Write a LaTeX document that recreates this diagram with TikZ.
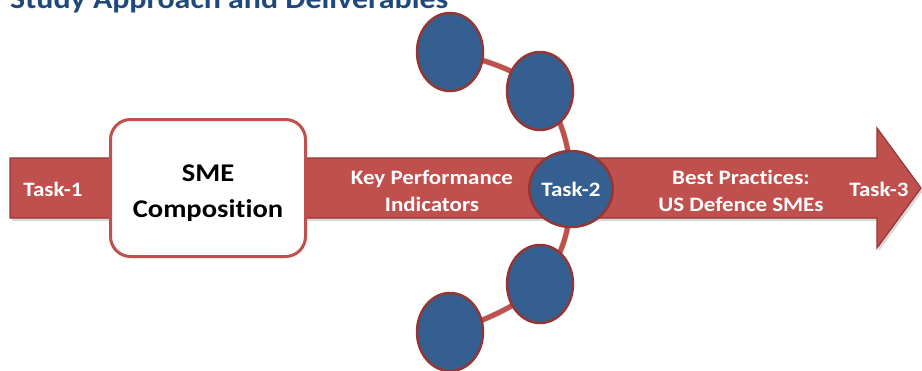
\documentclass[tikz,border=0pt]{standalone}
\usepackage{fontspec}
\setmainfont{Carlito}[FakeStretch=1.12, RawFeature=-liga]
\usetikzlibrary{shapes.geometric}
\definecolor{bandred}{RGB}{192,80,77}
\definecolor{banddark}{RGB}{150,55,52}
\definecolor{dotblue}{RGB}{54,95,145}
\definecolor{dotrim}{RGB}{148,54,52}
\definecolor{titleblue}{RGB}{31,73,125}
\tikzset{
  lbl/.style={text=white, font=\bfseries\fontsize{20.5}{27}\selectfont, align=center},
  dot/.style={ellipse, draw=dotrim, line width=2.5pt, fill=dotblue, minimum width=66pt, minimum height=78pt, inner sep=0pt},
  link/.style={draw=bandred, line width=5pt},
  linkshadow/.style={draw=black!60, opacity=.25, line width=6pt},
  smebox/.style={draw=bandred, line width=3pt, fill=white, rounded corners=20pt, minimum width=195pt, minimum height=137pt},
  smetext/.style={align=center, font=\bfseries\fontsize{25.5}{36}\selectfont}
}
\begin{document}
\begin{tikzpicture}[x=1pt,y=-1pt]
\useasboundingbox (0,0) rectangle (922,370);
\clip (0,0) rectangle (922,370);
% title (cropped at the top, as in the reference)
\node[anchor=base west, inner sep=0pt, text=titleblue, font=\bfseries\fontsize{28.5}{30}\selectfont] (title) at (10,8) {Study Approach and Deliverables};
% circle centres
\coordinate (p1) at (450,52);
\coordinate (p2) at (540,91);
\coordinate (p3) at (571,189);
\coordinate (p4) at (540,284);
\coordinate (p5) at (450,332);
% arrow band
\fill[black, opacity=.15] (12,161) -- (879,161) -- (879,131) -- (923,191) -- (879,251) -- (879,221) -- (12,221) -- cycle;
\draw[fill=bandred, draw=banddark, line width=1.2pt, line join=miter] (10,158) -- (877,158) -- (877,128) -- (921,188) -- (877,248) -- (877,218) -- (10,218) -- cycle;
% connectors
\draw[linkshadow, shift={(2,3)}] plot[smooth, tension=0.7] coordinates {(p1) (p2) (p3) (p4) (p5)};
\draw[link] plot[smooth, tension=0.7] coordinates {(p1) (p2) (p3) (p4) (p5)};
% circles
\node[dot] (c1) at (p1) {};
\node[dot] (c2) at (p2) {};
\node[dot, minimum width=64pt, minimum height=76pt, lbl] (c3) at (p3) {Task-2};
\node[dot] (c4) at (p4) {};
\node[dot] (c5) at (p5) {};
% labels
\node[lbl] (t1) at (53,189) {Task-1};
\node[smebox] (sme) at (208,188) {};
\node[smetext] (smet) at (208,193) {SME\\Composition};
\node[lbl] (kpi) at (432,191) {Key Performance\\Indicators};
\node[lbl] (bp) at (741,191) {Best Practices:\\US Defence SMEs};
\node[lbl] (t3) at (879,189) {Task-3};
\end{tikzpicture}
\end{document}
